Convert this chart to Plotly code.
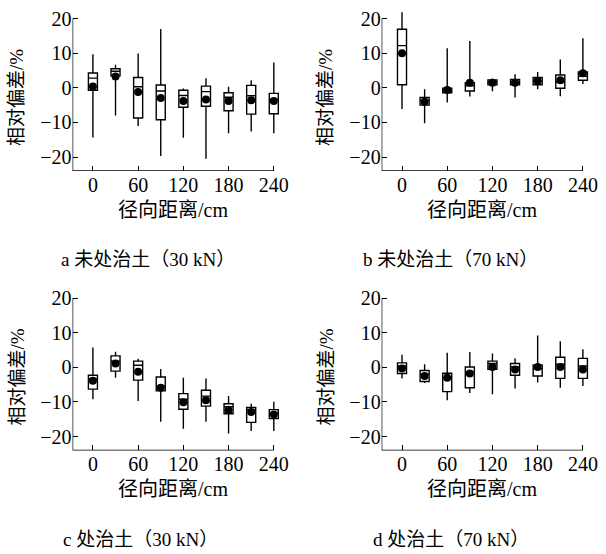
import plotly.graph_objects as go

W, H = 606, 554

positions = [0, 30, 60, 90, 120, 150, 180, 210, 240]
x_tickvals = [0, 60, 120, 180, 240]
x_ticktext = ["0", "60", "120", "180", "240"]
y_tickvals = [-20, -10, 0, 10, 20]
y_ticktext = ["\u221220", "\u221210", "0", "10", "20"]

x_title = "径向距离/cm"
y_title = "相对偏差/%"
captions = ["a 未处治土（30 kN）", "b 未处治土（70 kN）", "c 处治土（30 kN）", "d 处治土（70 kN）"]

# Panel a: untreated soil, 30 kN
a_upper = [9.7, 6.7, 9.9, 17.0, -0.2, 2.8, 0.3, 2.2, 7.3]
a_q3 = [4.3, 5.5, 3.0, 0.8, -0.7, 0.5, -1.4, 0.7, -1.6]
a_median = [2.8, 4.8, 0.3, -0.9, -2.2, -1.1, -2.7, -2.3, -3.3]
a_q1 = [-0.7, 3.5, -8.7, -9.2, -5.6, -5.3, -6.6, -7.6, -7.5]
a_lower = [-14.3, -8.0, -11.0, -19.7, -14.4, -20.5, -13.1, -12.6, -13.1]
a_mean = [0.4, 3.3, -1.2, -2.9, -3.8, -3.4, -3.8, -3.6, -3.8]

# Panel b: untreated soil, 70 kN
b_upper = [21.8, -0.4, 11.4, 13.5, 2.7, 3.9, 4.6, 8.2, 14.3]
b_q3 = [16.9, -2.8, -0.1, 1.5, 2.3, 2.4, 3.0, 3.7, 4.6]
b_median = [12.2, -3.7, -0.9, 0.6, 1.7, 1.7, 2.0, 1.7, 3.3]
b_q1 = [0.9, -5.0, -1.4, -0.9, 0.9, 0.9, 0.9, -0.1, 2.2]
b_lower = [-6.1, -10.2, -4.2, -2.5, -1.0, -2.8, -0.4, -2.4, 1.1]
b_mean = [10.0, -4.0, -0.6, 1.5, 1.5, 1.5, 2.0, 2.2, 4.2]

# Panel c: treated soil, 30 kN
c_upper = [5.7, 4.5, 2.5, -0.5, -3.0, -3.2, -8.3, -10.5, -9.9]
c_q3 = [-2.3, 3.3, 1.8, -2.8, -7.6, -6.6, -10.5, -11.6, -12.2]
c_median = [-3.3, 1.8, 0.6, -5.4, -9.2, -8.3, -11.4, -12.2, -13.2]
c_q1 = [-6.3, -1.1, -3.7, -6.8, -12.1, -11.2, -13.4, -15.9, -14.8]
c_lower = [-9.2, -3.0, -9.7, -15.7, -17.7, -15.7, -19.1, -18.4, -18.4]
c_mean = [-3.9, 1.1, -1.3, -5.9, -10.1, -9.5, -12.4, -12.9, -13.6]

# Panel d: treated soil, 70 kN
d_upper = [3.6, 0.9, 4.2, 4.4, 4.0, 2.6, 9.2, 7.5, 5.2]
d_q3 = [1.3, -0.9, -1.7, 0.1, 1.8, 1.1, 0.7, 2.9, 2.6]
d_median = [0.4, -2.0, -3.0, -1.3, 1.1, 0.1, -0.4, 0.9, 0.4]
d_q1 = [-1.8, -4.1, -7.0, -5.9, -0.6, -2.3, -2.5, -3.2, -3.2]
d_lower = [-3.2, -4.5, -9.5, -7.4, -7.8, -6.1, -4.4, -5.9, -5.4]
d_mean = [-0.3, -2.5, -3.0, -1.8, 0.1, -0.6, 0.1, 0.1, -0.6]

panels = [
    (a_lower, a_q1, a_median, a_q3, a_upper, a_mean),
    (b_lower, b_q1, b_median, b_q3, b_upper, b_mean),
    (c_lower, c_q1, c_median, c_q3, c_upper, c_mean),
    (d_lower, d_q1, d_median, d_q3, d_upper, d_mean),
]

FONT = "Liberation Serif, 'Times New Roman', 'Noto Sans CJK SC', serif"
XR = [-27, 250]
YR = [-24, 23]
ppu_x = 183 / 240.0
ppu_y = 3.47

# pixel location of x=0 and y=0 for each panel
origins = [(94.0, 87.0), (406.7, 87.0), (94.0, 367.0), (406.7, 367.0)]

fig = go.Figure()
layout = {}
shapes = []
annotations = []

def px2fx(p):
    return p / W

def px2fy(p):
    return 1 - p / H

for i, (lo, q1, med, q3, up, mean) in enumerate(panels):
    k = "" if i == 0 else str(i + 1)
    xa, ya = "x" + k, "y" + k
    ox, oy = origins[i]
    left = ox + XR[0] * ppu_x
    right = ox + XR[1] * ppu_x
    top = oy - YR[1] * ppu_y
    bottom = oy - YR[0] * ppu_y
    fig.add_trace(go.Box(
        x=positions, q1=q1, median=med, q3=q3, lowerfence=lo, upperfence=up,
        width=12, whiskerwidth=0, fillcolor="white",
        line=dict(color="black", width=1.4), boxpoints=False,
        xaxis=xa, yaxis=ya, showlegend=False, hoverinfo="skip",
    ))
    fig.add_trace(go.Scatter(
        x=positions, y=mean, mode="markers",
        marker=dict(color="black", size=8),
        xaxis=xa, yaxis=ya, showlegend=False, cliponaxis=False,
    ))
    layout["xaxis" + k] = dict(
        domain=[px2fx(left), px2fx(right)], range=XR, anchor=ya,
        tickvals=x_tickvals, ticktext=x_ticktext, ticks="inside", ticklen=5,
        tickwidth=1.3, tickcolor="black", showline=False, showgrid=False,
        zeroline=False, tickfont=dict(family=FONT, size=20, color="black"),
    )
    layout["yaxis" + k] = dict(
        domain=[px2fy(bottom), px2fy(top)], range=YR, anchor=xa,
        tickvals=y_tickvals, ticktext=y_ticktext, ticks="inside", ticklen=5,
        tickwidth=1.3, tickcolor="black", showline=False, showgrid=False,
        zeroline=False, tickfont=dict(family=FONT, size=20, color="black"),
    )
    shapes.append(dict(type="line", xref=xa, yref=ya, x0=XR[0], x1=240,
                       y0=YR[0], y1=YR[0], line=dict(color="black", width=1.3)))
    shapes.append(dict(type="line", xref=xa, yref=ya, x0=XR[0], x1=XR[0],
                       y0=YR[0], y1=20, line=dict(color="black", width=1.3)))
    # axis titles and captions
    cx = (left + ox + 240 * ppu_x) / 2
    annotations.append(dict(text=x_title, x=px2fx(cx), y=px2fy(oy + 122),
                            xref="paper", yref="paper", showarrow=False,
                            xanchor="center", yanchor="middle",
                            font=dict(family=FONT, size=20, color="black")))
    annotations.append(dict(text=y_title, x=px2fx(left - 56), y=px2fy(oy + 10),
                            xref="paper", yref="paper", showarrow=False, textangle=-90,
                            xanchor="center", yanchor="middle",
                            font=dict(family=FONT, size=19, color="black")))
    capx = [150, 456, 142, 456][i]
    annotations.append(dict(text=captions[i], x=px2fx(capx), y=px2fy(oy + 172),
                            xref="paper", yref="paper", showarrow=False,
                            xanchor="center", yanchor="middle",
                            font=dict(family=FONT, size=19, color="black")))

fig.update_layout(
    width=W, height=H, margin=dict(l=0, r=0, t=0, b=0),
    paper_bgcolor="white", plot_bgcolor="white",
    shapes=shapes, annotations=annotations, showlegend=False,
    **layout,
)

fig.write_html("out.html", config={"displayModeBar": False},
               post_script="document.body.style.margin='0';document.body.style.overflow='hidden';")
